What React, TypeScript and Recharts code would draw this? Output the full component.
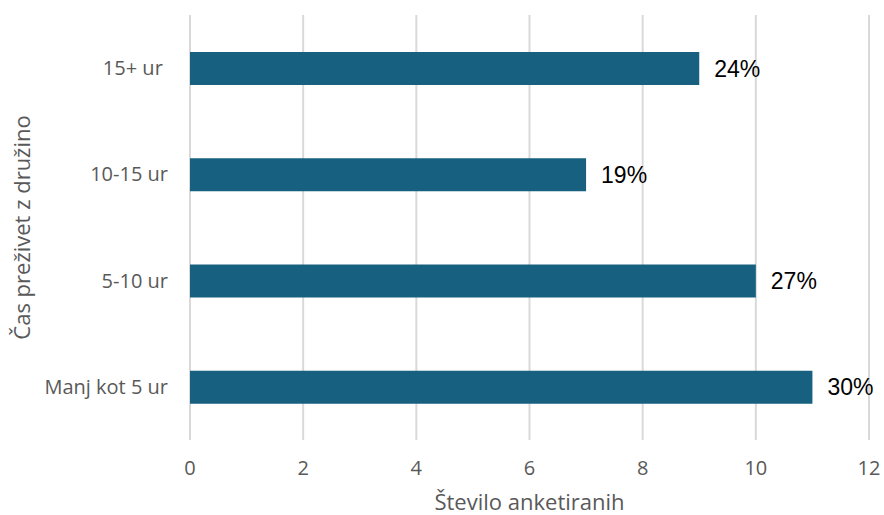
import { BarChart, Bar, XAxis, YAxis, CartesianGrid, LabelList, Label } from 'recharts';

const categories = ['15+ ur ', '10-15 ur', '5-10 ur', 'Manj kot 5 ur'];
const counts = [9, 7, 10, 11];
const shares = ['24%', '19%', '27%', '30%'];
const xTicks = [0, 2, 4, 6, 8, 10, 12];

const data = categories.map((name, i) => ({ name, count: counts[i], share: shares[i] }));

const axisFont = '"Open Sans", sans-serif';

function CategoryTick(props: any) {
  const { x, y, payload } = props;
  return (
    <text
      x={x}
      y={y}
      dy="0.35em"
      textAnchor="end"
      fill="#595959"
      fontSize={20}
      fontFamily={axisFont}
      style={{ whiteSpace: 'pre' }}
    >
      {payload.value}
    </text>
  );
}

export default function App() {
  return (
    <div style={{ position: 'absolute', left: 0, top: 0, background: '#fff' }}>
      <BarChart
        width={884}
        height={515}
        data={data}
        layout="vertical"
        margin={{ top: 15, right: 15, bottom: 0, left: 0 }}
      >
        <CartesianGrid horizontal={false} stroke="#d9d9d9" strokeWidth={2} />
        <XAxis
          type="number"
          domain={[0, 12]}
          ticks={xTicks}
          axisLine={false}
          tickLine={false}
          tickSize={0}
          tickMargin={21}
          height={75}
          tick={{ fill: '#595959', fontSize: 20, fontFamily: axisFont }}
        >
          <Label
            value="Število anketiranih"
            position="insideBottom"
            offset={5}
            fill="#595959"
            fontSize={22}
            fontFamily={axisFont}
          />
        </XAxis>
        <YAxis
          type="category"
          dataKey="name"
          width={190}
          axisLine={false}
          tickLine={false}
          tickSize={0}
          tickMargin={22}
          tick={<CategoryTick />}
        >
          <Label
            value="Čas preživet z družino"
            angle={-90}
            position="insideLeft"
            offset={22}
            fill="#595959"
            fontSize={22}
            fontFamily={axisFont}
            style={{ textAnchor: 'middle' }}
          />
        </YAxis>
        <Bar dataKey="count" fill="#17607f" barSize={33} isAnimationActive={false}>
          <LabelList
            dataKey="share"
            position="right"
            offset={15}
            fill="#000"
            fontSize={23}
            fontFamily='"Liberation Sans", Arial, sans-serif'
          />
        </Bar>
      </BarChart>
    </div>
  );
}
